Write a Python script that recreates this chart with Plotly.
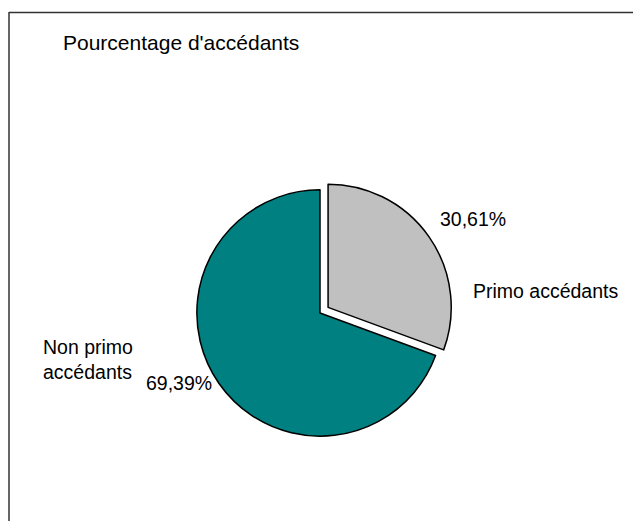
import plotly.graph_objects as go

W, H = 633, 521

title = "Pourcentage d'accédants"
labels = ["Primo accédants", "Non primo accédants"]
values = [30.61, 69.39]
colors = ["#C0C0C0", "#008080"]
pulls = [0.08, 0]


def px(x):
    return x / W


def py(y):
    return 1 - y / H


def pct(v):
    return f"{v:.2f}".replace(".", ",") + "%"


cx, cy, half = 320, 313, 133

fig = go.Figure(
    go.Pie(
        labels=labels,
        values=values,
        sort=False,
        direction="clockwise",
        rotation=0,
        pull=pulls,
        marker=dict(colors=colors, line=dict(color="#000000", width=1.5)),
        textinfo="none",
        hoverinfo="label+percent",
        showlegend=False,
        domain=dict(x=[px(cx - half), px(cx + half)], y=[py(cy + half), py(cy - half)]),
    )
)

font = dict(family="Liberation Sans, Arial, sans-serif", color="#000000")

annotations = [
    dict(text=title, x=px(61), y=py(43), xanchor="left", yanchor="middle",
         font=dict(size=21, **font)),
    dict(text=pct(values[0]), x=px(438), y=py(219), xanchor="left", yanchor="middle",
         font=dict(size=19.5, **font)),
    dict(text=labels[0], x=px(471), y=py(291), xanchor="left", yanchor="middle",
         font=dict(size=19.5, **font)),
    dict(text=labels[1].replace(" accédants", "<br>accédants"), x=px(41), y=py(359),
         xanchor="left", yanchor="middle", align="left",
         font=dict(size=19.5, **font)),
    dict(text=pct(values[1]), x=px(144), y=py(383), xanchor="left", yanchor="middle",
         font=dict(size=19.5, **font)),
]
for a in annotations:
    a.update(xref="paper", yref="paper", showarrow=False)

border = dict(color="#333333", width=1.5)

fig.update_layout(
    width=W,
    height=H,
    margin=dict(l=0, r=0, t=0, b=0),
    paper_bgcolor="#FFFFFF",
    plot_bgcolor="#FFFFFF",
    annotations=annotations,
    shapes=[
        dict(type="line", xref="paper", yref="paper",
             x0=px(9), x1=1.05, y0=py(12.5), y1=py(12.5), line=border, layer="below"),
        dict(type="line", xref="paper", yref="paper",
             x0=px(9), x1=px(9), y0=py(12), y1=-0.05, line=border, layer="below"),
    ],
)

fig.write_html(
    "out.html",
    config={"displayModeBar": False},
    post_script="document.body.style.margin='0';document.body.style.overflow='hidden';",
)
